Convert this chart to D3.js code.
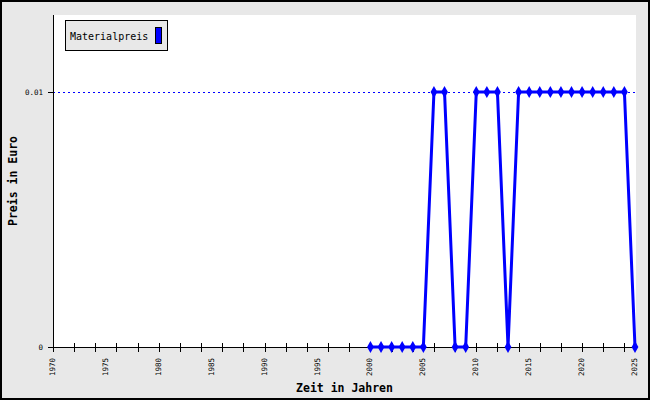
<!DOCTYPE html>
<html><head><meta charset="utf-8">
<script src="https://cdn.jsdelivr.net/npm/d3@7"></script>
<style>body{margin:0;background:#fff}svg{display:block}</style>
</head><body>
<svg id="c" width="650" height="400"></svg>
<script>
const years = [2000,2001,2002,2003,2004,2005,2006,2007,2008,2009,2010,2011,2012,2013,2014,2015,2016,2017,2018,2019,2020,2021,2022,2023,2024,2025];
const prices = [0,0,0,0,0,0,0.01,0.01,0,0,0.01,0.01,0.01,0,0.01,0.01,0.01,0.01,0.01,0.01,0.01,0.01,0.01,0.01,0.01,0];
const xTickLabels = [1970,1975,1980,1985,1990,1995,2000,2005,2010,2015,2020,2025];
const yTickValues = [0,0.01];
const seriesName = "Materialpreis";

const svg = d3.select("#c");
const W=650,H=400;
const L=53,R=636,T=15,B=347;
const mono = "'DejaVu Sans Mono', monospace";

svg.append("rect").attr("x",1).attr("y",1).attr("width",W-2).attr("height",H-2)
  .attr("fill","#e8e8e8").attr("stroke","#000").attr("stroke-width",2);
svg.append("rect").attr("x",L).attr("y",T).attr("width",R-L).attr("height",B-T).attr("fill","#fff");

const x = d3.scaleLinear().domain([1970,2025]).range([L,R-1]);
const y = d3.scaleLinear().domain([0,0.01302]).range([B,T]);

// grid line
svg.append("g").selectAll("line").data(yTickValues.filter(v=>v>0)).join("line")
  .attr("x1",L).attr("x2",R).attr("y1",d=>y(d)+0.5).attr("y2",d=>y(d)+0.5)
  .attr("stroke","#0000ff").attr("stroke-width",1).attr("stroke-dasharray","2,3");

// x axis
svg.append("line").attr("x1",L).attr("x2",R).attr("y1",B+0.5).attr("y2",B+0.5).attr("stroke","#000");
svg.append("g").selectAll("line").data(d3.range(1970,2026,2)).join("line")
  .attr("x1",d=>Math.round(x(d))+0.5).attr("x2",d=>Math.round(x(d))+0.5)
  .attr("y1",B-4).attr("y2",B+5).attr("stroke","#000");
svg.append("g").selectAll("text").data(xTickLabels).join("text")
  .attr("transform",d=>`translate(${Math.round(x(d))+1.5},358) rotate(-90)`)
  .attr("text-anchor","end").attr("font-family",mono).attr("font-size",7.5).attr("fill","#000")
  .text(d=>d);

// y axis
svg.append("line").attr("x1",L+0.5).attr("x2",L+0.5).attr("y1",T).attr("y2",B+5).attr("stroke","#000");
svg.append("g").selectAll("line").data(yTickValues).join("line")
  .attr("x1",L-5).attr("x2",L).attr("y1",d=>Math.round(y(d))+0.5).attr("y2",d=>Math.round(y(d))+0.5).attr("stroke","#000");
svg.append("g").selectAll("text").data(yTickValues).join("text")
  .attr("x",L-10).attr("y",d=>y(d)+3).attr("text-anchor","end")
  .attr("font-family",mono).attr("font-size",7.5).text(d=>d===0?"0":d3.format(".2f")(d));

// line
svg.append("path").datum(years.map((d,i)=>[d,prices[i]]))
  .attr("d",d3.line().x(d=>x(d[0])).y(d=>y(d[1])))
  .attr("fill","none").attr("stroke","#0000ff").attr("stroke-width",3);
svg.append("g").selectAll("path").data(years.map((d,i)=>[d,prices[i]])).join("path")
  .attr("transform",d=>`translate(${x(d[0])},${y(d[1])})`)
  .attr("d",d3.symbol(d3.symbolDiamond,40)).attr("fill","#0000ff");

// titles
svg.append("text").attr("x",(L+R)/2).attr("y",392).attr("text-anchor","middle")
  .attr("font-family",mono).attr("font-weight","bold").attr("font-size",11.5).text("Zeit in Jahren");
svg.append("text").attr("transform",`translate(17,${(T+B)/2}) rotate(-90)`).attr("text-anchor","middle")
  .attr("font-family",mono).attr("font-weight","bold").attr("font-size",11.5).text("Preis in Euro");

// legend
const lg = svg.append("g");
lg.append("rect").attr("x",65.5).attr("y",20.5).attr("width",102).attr("height",30)
  .attr("fill","#e8e8e8").attr("stroke","#000");
lg.append("text").attr("x",70).attr("y",40).attr("font-family",mono).attr("font-size",10).text(seriesName);
lg.append("rect").attr("x",155.5).attr("y",27.5).attr("width",6).attr("height",16)
  .attr("fill","#0000ff").attr("stroke","#000");
</script>
</body></html>
